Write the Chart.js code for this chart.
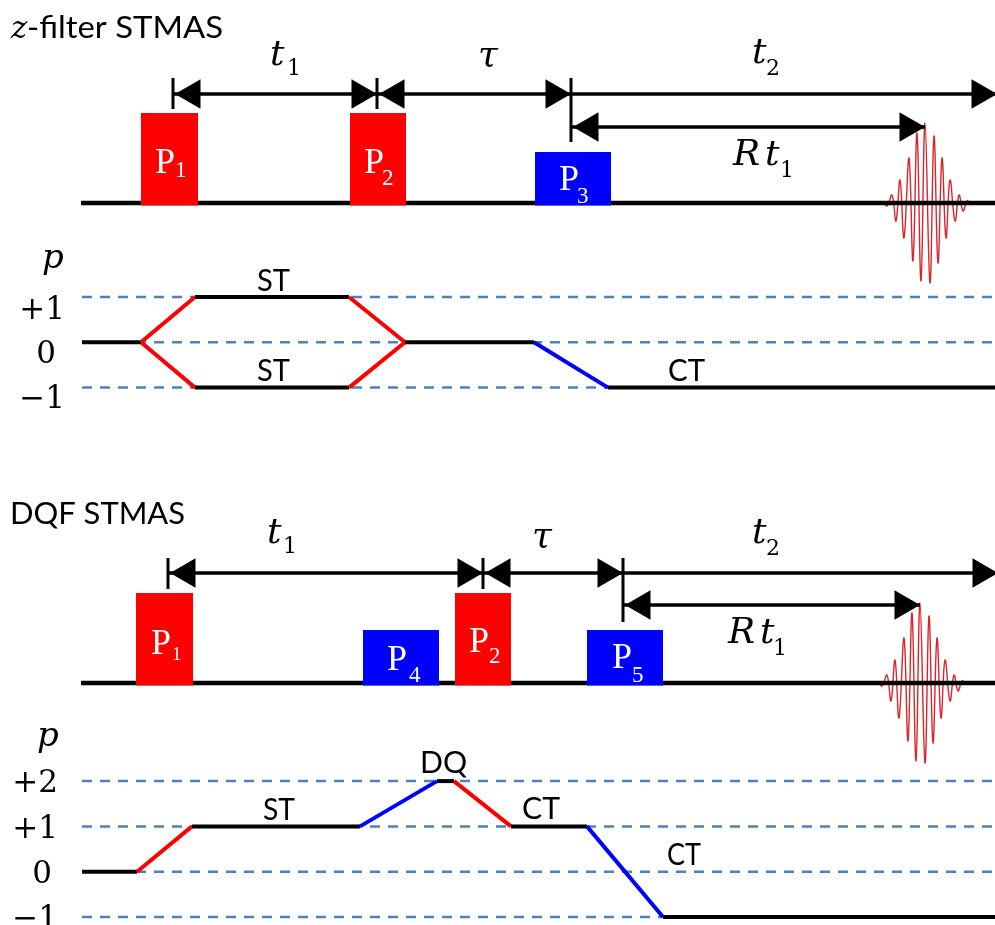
<!DOCTYPE html>
<html>
<head>
<meta charset="utf-8">
<script src="https://cdn.jsdelivr.net/npm/chart.js@4.4.1/dist/chart.umd.min.js"></script>
<style>
  html, body { margin: 0; padding: 0; background: #fff; }
  canvas { display: block; }
</style>
</head>
<body>
<canvas id="seq" width="995" height="925"></canvas>
<script>
// ---- data: time in px-like units along x, p = coherence order ----
const levelsTop = [1, 0, -1];
const levelsBot = [2, 1, 0, -1];

// pulses: name, on, off, amplitude, kind (hard = red, soft = blue)
const pulsesTop = [
  { name: 'P1', on: 141, off: 198, amp: 90, kind: 'hard' },
  { name: 'P2', on: 350, off: 406, amp: 90, kind: 'hard' },
  { name: 'P3', on: 535, off: 611, amp: 51, kind: 'soft' }
];
const pulsesBot = [
  { name: 'P1', on: 136, off: 193, amp: 90, kind: 'hard' },
  { name: 'P4', on: 363, off: 439, amp: 53, kind: 'soft' },
  { name: 'P2', on: 455, off: 511, amp: 90, kind: 'hard' },
  { name: 'P5', on: 587, off: 663, amp: 53, kind: 'soft' }
];

// coherence pathways [time, p]
const pathTopA = [[82, 0], [141, 0], [195, 1], [349, 1], [405, 0], [534, 0], [608, -1], [995, -1]];
const pathTopB = [[141, 0], [195, -1], [349, -1], [405, 0]];
const pathBot = [[82, 0], [137, 0], [192, 1], [360, 1], [437, 2], [454, 2], [511, 1], [587, 1], [663, -1], [995, -1]];

// delays: from, to, row, heads [left, right]
const delaysTop = [
  { from: 173, to: 377, row: 0, heads: [1, 1] },
  { from: 377, to: 571, row: 0, heads: [1, 1] },
  { from: 571, to: 997, row: 0, heads: [0, 1] },
  { from: 571, to: 925, row: 1, heads: [1, 1] }
];
const delaysBot = [
  { from: 168, to: 483, row: 0, heads: [1, 1] },
  { from: 483, to: 623, row: 0, heads: [1, 1] },
  { from: 623, to: 998, row: 0, heads: [0, 1] },
  { from: 623, to: 920, row: 1, heads: [1, 1] }
];

// echo: offsets from echo top and signed peak heights
const echoDx  = [-47, -42, -38, -33, -29, -25, -21, -16, -12, -8, -4, 0, 5, 9, 13, 17, 21, 25, 30, 34, 38, 42, 45];
const echoAmp = [0, 1, -3, 8, -18, 23, -35, 45, -58, 70, -78, 80, -80, 67, -60, 45, -35, 23, -18, 8, -8, 2, 0];
const echoTop = 925, echoBot = 920;

// ---- layout ----
const W = 995, H = 925;
const layTop = { base: 203, p0: 342.3, dp: 45.3, rows: [94, 127], ticks: [[173, 78, 109], [377, 78, 109], [571, 78, 142]] };
const layBot = { base: 683, p0: 871.7, dp: 45.3, rows: [573, 605], ticks: [[168, 558, 589], [483, 558, 589], [623, 558, 622]] };
const COL = { hard: '#ff0000', soft: '#0000ff', ink: '#000000', dash: '#4f81bd', echo: '#d8262c' };
const HEAD = 17;

const FONTS = {
  it: 'italic 36px "DejaVu Serif"',
  rm: '36px "Liberation Serif"',
  sub: '23px "Liberation Serif"',
  subS: '19px "Liberation Serif"',
  isub: '22px "DejaVu Serif"',
  lvl: '31px "DejaVu Serif"',
  pit: 'italic 34px "DejaVu Serif"',
  itZ: 'italic 31px "DejaVu Serif"',
  sans: '30px Lato',
  title: '30px Lato'
};

const labels = [
  // titles
  { x: 11, y: 38, runs: [['z', 'itZ']] },
  { x: 27, y: 38, fit: 196, runs: [['-filter STMAS', 'title']] },
  { x: 10, y: 524, fit: 175, runs: [['DQF STMAS', 'title']] },
  // delay labels
  { x: 270, y: 65, runs: [['t', 'it'], ['1', 'isub', 17, 10]] },
  { x: 478, y: 66, runs: [['τ', 'it']] },
  { x: 752, y: 63, runs: [['t', 'it'], ['2', 'isub', 14, 12]] },
  { x: 733, y: 165, runs: [['R', 'it'], ['t', 'it', 32, 0], ['1', 'isub', 47, 12]] },
  { x: 267, y: 543, runs: [['t', 'it'], ['1', 'isub', 16, 10]] },
  { x: 532, y: 547, runs: [['τ', 'it']] },
  { x: 752, y: 543, runs: [['t', 'it'], ['2', 'isub', 14, 12]] },
  { x: 728, y: 643, runs: [['R', 'it'], ['t', 'it', 32, 0], ['1', 'isub', 45, 12]] },
  // pulse names
  { x: 155, y: 173, color: '#fff', runs: [['P', 'rm'], ['1', 'sub', 20, 4]] },
  { x: 364, y: 173, color: '#fff', runs: [['P', 'rm'], ['2', 'sub', 18, 12]] },
  { x: 559, y: 190, color: '#fff', runs: [['P', 'rm'], ['3', 'sub', 18, 13]] },
  { x: 151, y: 654, color: '#fff', runs: [['P', 'rm'], ['1', 'subS', 21, 6]] },
  { x: 387, y: 670, color: '#fff', runs: [['P', 'rm'], ['4', 'sub', 22, 12]] },
  { x: 469, y: 652, color: '#fff', runs: [['P', 'rm'], ['2', 'sub', 20, 11]] },
  { x: 612, y: 668, color: '#fff', runs: [['P', 'rm'], ['5', 'sub', 20, 14]] },
  // coherence orders
  { x: 53, y: 268, align: 'center', runs: [['p', 'pit']] },
  { x: 42, y: 319, align: 'center', runs: [['+1', 'lvl']] },
  { x: 46, y: 363, align: 'center', runs: [['0', 'lvl']] },
  { x: 42, y: 408, align: 'center', runs: [['\u22121', 'lvl']] },
  { x: 48, y: 746, align: 'center', runs: [['p', 'pit']] },
  { x: 35, y: 792, align: 'center', runs: [['+2', 'lvl']] },
  { x: 35, y: 838, align: 'center', runs: [['+1', 'lvl']] },
  { x: 42, y: 883, align: 'center', runs: [['0', 'lvl']] },
  { x: 35, y: 928, align: 'center', runs: [['\u22121', 'lvl']] },
  // transitions
  { x: 257, y: 291, fit: 33, runs: [['ST', 'sans']] },
  { x: 257, y: 381, fit: 33, runs: [['ST', 'sans']] },
  { x: 668, y: 381, fit: 37, runs: [['CT', 'sans']] },
  { x: 420, y: 773, fit: 47, runs: [['DQ', 'sans']] },
  { x: 263, y: 820, fit: 32, runs: [['ST', 'sans']] },
  { x: 522, y: 819, fit: 38, runs: [['CT', 'sans']] },
  { x: 667, y: 865, fit: 34, runs: [['CT', 'sans']] }
];

// ---- build datasets ----
const datasets = [];
function line(points, yAxisID, style, order) {
  datasets.push(Object.assign({
    type: 'line', yAxisID, order,
    data: points.map(([x, y]) => ({ x, y })),
    pointRadius: 0, fill: false, tension: 0, borderColor: COL.ink, borderWidth: 3.5
  }, style));
}

function segColour(a, b, pulses) {
  if (a.y === b.y) return COL.ink;
  const mid = (a.x + b.x) / 2;
  const p = pulses.find(q => mid >= q.on - 4 && mid <= q.off + 4);
  return p ? COL[p.kind] : COL.ink;
}

const panels = [
  { levels: levelsTop, pulses: pulsesTop, paths: [pathTopA, pathTopB], delays: delaysTop, echoAt: echoTop, axis: 'pTop', lay: layTop },
  { levels: levelsBot, pulses: pulsesBot, paths: [pathBot], delays: delaysBot, echoAt: echoBot, axis: 'pBot', lay: layBot }
];

panels.forEach(pn => {
  const L = pn.lay;
  pn.levels.forEach(v => line([[82, v], [W, v]], pn.axis, { borderColor: COL.dash, borderWidth: 2.5, borderDash: [10, 8] }, 9));
  line(echoDx.map((d, i) => [pn.echoAt + d, L.base - echoAmp[i]]), 'y', { borderColor: COL.echo, borderWidth: 1.4, tension: 0.4 }, 8);
  line([[81, L.base], [W, L.base]], 'y', { borderWidth: 4.5 }, 7);
  pn.pulses.forEach(p => line([[p.on, L.base - p.amp], [p.off, L.base - p.amp]], 'y',
    { borderWidth: 0, backgroundColor: COL[p.kind], fill: { value: L.base + 2.5 } }, 6));
  pn.paths.forEach(path => line(path, pn.axis, {
    borderWidth: 4,
    segment: { borderColor: c => segColour(c.p0.parsed, c.p1.parsed, pn.pulses) }
  }, 5));
  L.ticks.forEach(([x, y0, y1]) => line([[x, y0], [x, y1]], 'y', { borderWidth: 3 }, 4));
  const heads = [], rot = [];
  pn.delays.forEach(d => {
    const y = L.rows[d.row];
    line([[d.from, y], [d.to, y]], 'y', { borderWidth: 3.5 }, 4);
    if (d.heads[0]) { heads.push([d.from + 2 + HEAD, y]); rot.push(-90); }
    if (d.heads[1]) { heads.push([d.to - HEAD, y]); rot.push(90); }
  });
  line(heads, 'y', {
    showLine: false, pointStyle: 'triangle', pointRadius: HEAD, pointRotation: rot,
    pointBackgroundColor: COL.ink, pointBorderWidth: 0
  }, 3);
});

const textPlugin = {
  id: 'seqText',
  afterDatasetsDraw(chart) {
    const { ctx } = chart, sx = chart.scales.x, sy = chart.scales.y;
    ctx.save();
    ctx.textBaseline = 'alphabetic';
    labels.forEach(l => {
      const px = sx.getPixelForValue(l.x), py = sy.getPixelForValue(l.y);
      ctx.fillStyle = l.color || COL.ink;
      ctx.textAlign = l.align || 'left';
      l.runs.forEach(([t, f, dx = 0, dy = 0]) => {
        ctx.font = FONTS[f];
        if (l.fit) {
          const w = ctx.measureText(t).width;
          ctx.save();
          ctx.translate(px + dx, py + dy);
          ctx.scale(l.fit / w, 1);
          ctx.fillText(t, 0, 0);
          ctx.restore();
        } else {
          ctx.fillText(t, px + dx, py + dy);
        }
      });
    });
    ctx.restore();
  }
};

const pAxis = L => ({ type: 'linear', display: false, bounds: 'data', min: (L.p0 - H) / L.dp, max: L.p0 / L.dp });

new Chart(document.getElementById('seq'), {
  type: 'line',
  data: { datasets },
  options: {
    responsive: false,
    devicePixelRatio: 1,
    animation: false,
    events: [],
    layout: { padding: 0, autoPadding: false },
    plugins: { legend: { display: false }, tooltip: { enabled: false } },
    scales: {
      x: { type: 'linear', display: false, bounds: 'data', min: 0, max: W },
      y: { type: 'linear', display: false, bounds: 'data', min: 0, max: H, reverse: true },
      pTop: pAxis(layTop),
      pBot: pAxis(layBot)
    }
  },
  plugins: [textPlugin]
});
</script>
</body>
</html>
